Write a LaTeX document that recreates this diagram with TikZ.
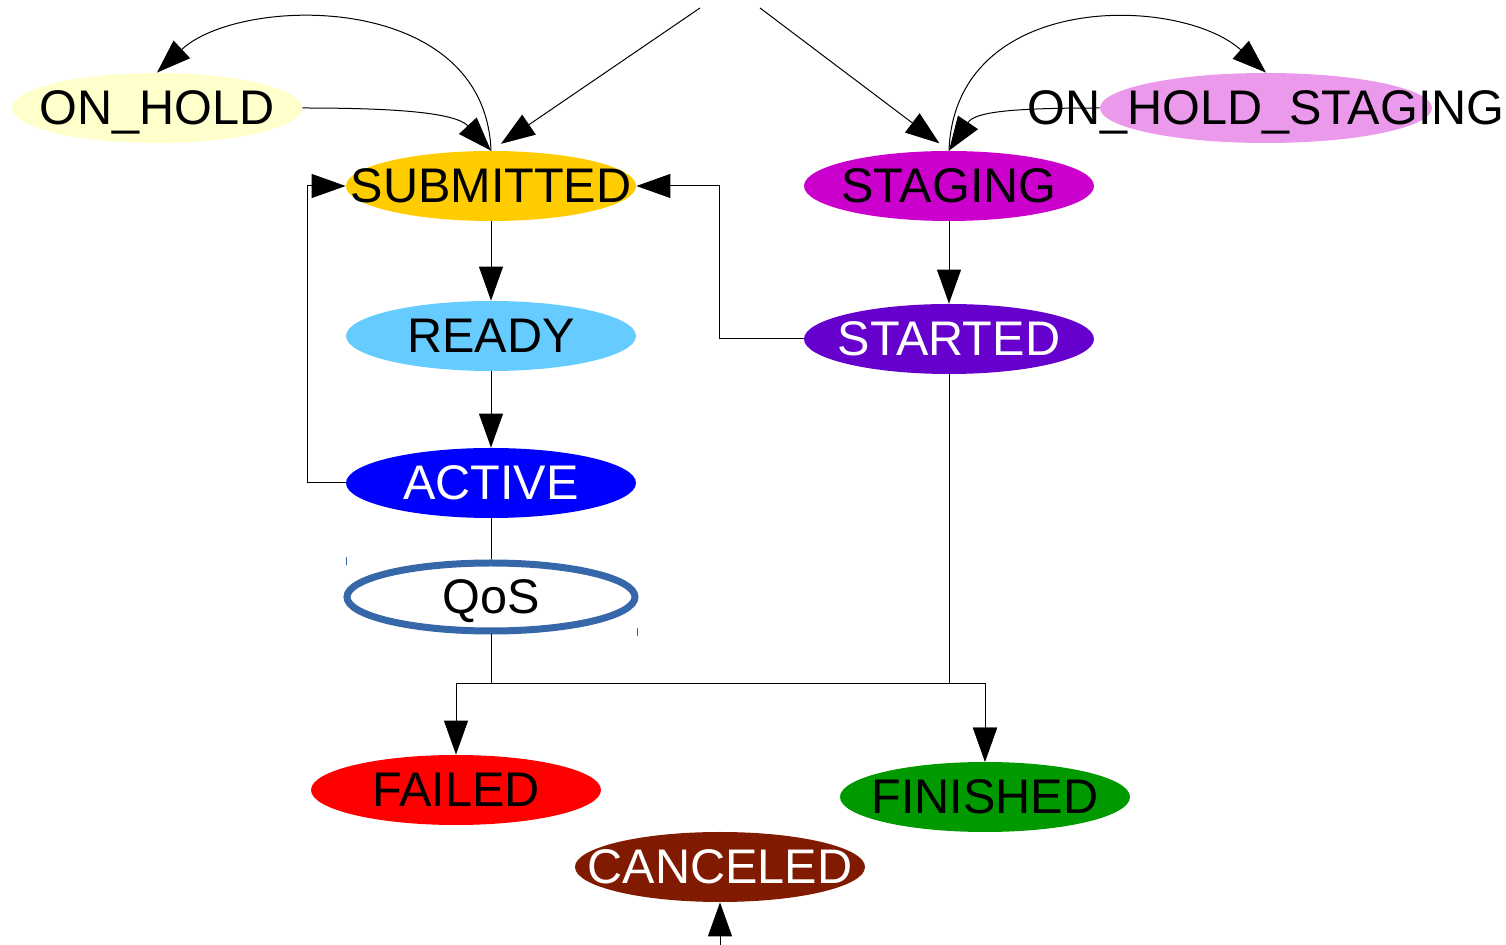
\documentclass[tikz,border=0pt]{standalone}
\usepackage{fontspec}
\setmainfont{Liberation Sans}
\usetikzlibrary{positioning,shapes,arrows.meta,calc}

\definecolor{onholdyellow}{RGB}{255,255,204}
\definecolor{submittedgold}{RGB}{255,204,0}
\definecolor{stagingmagenta}{RGB}{204,0,204}
\definecolor{onholdviolet}{RGB}{235,153,235}
\definecolor{readyblue}{RGB}{102,204,255}
\definecolor{startedpurple}{RGB}{102,0,204}
\definecolor{activeblue}{RGB}{0,0,255}
\definecolor{qosblue}{RGB}{54,103,168}
\definecolor{failedred}{RGB}{255,0,0}
\definecolor{finishedgreen}{RGB}{0,153,0}
\definecolor{canceledbrown}{RGB}{128,26,0}

\begin{document}
\begin{tikzpicture}[
        x=0.5pt, y=-0.5pt,
        state/.style={ellipse, minimum width=145pt, minimum height=35pt, inner sep=0pt, text depth=0pt, font=\fontsize{24.3}{24.3}\selectfont},
        trans/.style={-{Triangle[length=17pt,width=12pt]}, line width=0.5pt},
        link/.style={line width=0.5pt}
    ]
        \useasboundingbox (0,0) rectangle (1506,945);

        % States
        \node (onhold) at (157,108) [state,fill=onholdyellow] {\makebox[0pt]{ON\_HOLD}};
        \node (submitted) at (491,186) [state,fill=submittedgold] {\makebox[0pt]{SUBMITTED}};
        \node (staging) at (949,186) [state,fill=stagingmagenta] {\makebox[0pt]{STAGING}};
        \node (onholdstaging) at (1266,108) [state,fill=onholdviolet,minimum width=166pt] {\makebox[0pt]{ON\_HOLD\_STAGING}};
        \node (ready) at (491,336) [state,fill=readyblue] {\makebox[0pt]{READY}};
        \node (started) at (949,339) [state,fill=startedpurple,text=white] {\makebox[0pt]{STARTED}};
        \node (active) at (491,483) [state,fill=activeblue,text=white] {\makebox[0pt]{ACTIVE}};
        \node (qos) at (491,597) [state,draw=qosblue,line width=3.5pt,fill=white,minimum width=144pt,minimum height=34pt] {\makebox[0pt]{QoS}};
        \node (failed) at (456,790) [state,fill=failedred] {\makebox[0pt]{FAILED}};
        \node (finished) at (985,797) [state,fill=finishedgreen] {\makebox[0pt]{FINISHED}};
        \node (canceled) at (720,867) [state,fill=canceledbrown,text=white] {\makebox[0pt]{CANCELED}};

        % little marks by QoS
        \draw[qosblue,line width=0.5pt] (346,557) -- (346,565);
        \draw[qosblue,line width=0.5pt] (637,628) -- (637,636);

        % Free ends
        \coordinate (entrysub) at (700,8);
        \coordinate (entrystg) at (760,8);
        \coordinate (entrycan) at (720,945);
        \coordinate (split) at (491,684);

        % Arrows
        \draw[trans,shorten >=6pt] (entrysub) -- (submitted.north);
        \draw[trans,shorten >=6pt] (entrystg) -- (staging.north);
        \draw[trans] (submitted.north) .. controls (485,-10) and (240,-5) .. (onhold.north);
        \draw[trans] (onhold.east) .. controls (390,108) and (455,112) .. (submitted.north);
        \draw[trans] (staging.north) .. controls (955,-10) and (1180,-5) .. (onholdstaging.north);
        \draw[trans] (onholdstaging.west) .. controls (1010,108) and (975,112) .. (staging.north);
        \draw[trans] (submitted) -- (ready);
        \draw[trans] (ready) -- (active);
        \draw[trans] (staging) -- (started);
        \draw[trans] (active.west) -- ++(-38,0) |- (submitted.west);
        \draw[trans] (started.west) -- ++(-84,0) |- (submitted.east);
        \draw[link] (active) -- (qos);
        \draw[trans] (qos.south) -- (split) -| (failed.north);
        \draw[trans] (qos.south) -- (split) -| (finished.north);
        \draw[trans] (started.south) -- (started.south |- split) -| (finished.north);
        \draw[trans] (entrycan) -- (canceled.south);
    \end{tikzpicture}
\end{document}
